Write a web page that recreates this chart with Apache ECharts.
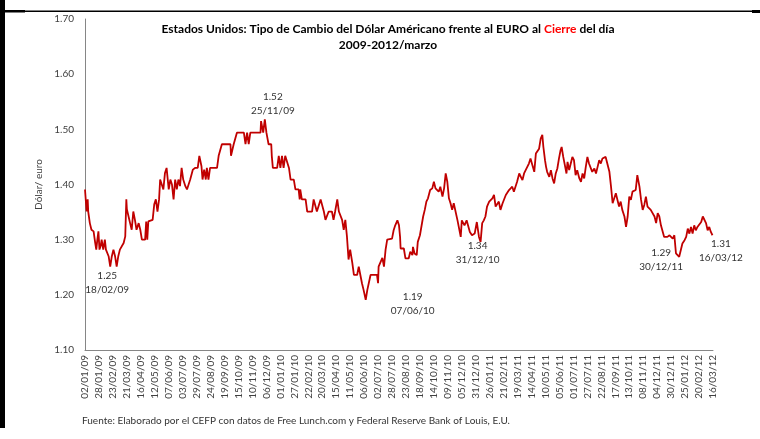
<!DOCTYPE html>
<html>
<head>
<meta charset="utf-8">
<script src="https://cdn.jsdelivr.net/npm/echarts@6/dist/echarts.min.js"></script>
<style>
  html, body { margin: 0; padding: 0; background: #fff; }
  #chart { width: 760px; height: 439px; }
</style>
</head>
<body>
<div id="chart"></div>
<script>
// etiquetas del eje x (cada 26 días desde 02/01/09)
const tickLabels = [
  '02/01/09', '28/01/09', '23/02/09', '21/03/09', '16/04/09', '12/05/09', '07/06/09', '03/07/09',
  '29/07/09', '24/08/09', '19/09/09', '15/10/09', '10/11/09', '06/12/09', '01/01/10', '27/01/10',
  '22/02/10', '20/03/10', '15/04/10', '11/05/10', '06/06/10', '02/07/10', '28/07/10', '23/08/10',
  '18/09/10', '14/10/10', '09/11/10', '05/12/10', '31/12/10', '26/01/11', '21/02/11', '19/03/11',
  '14/04/11', '10/05/11', '05/06/11', '01/07/11', '27/07/11', '22/08/11', '17/09/11', '13/10/11',
  '08/11/11', '04/12/11', '30/12/11', '25/01/12', '20/02/12', '16/03/12',
]
const tickStep = 26

// días transcurridos desde 02/01/09 y tipo de cambio (2009 - mediados 2010)
const daysA = [
  0, 3, 5, 6, 9, 12, 16, 19, 21, 23,
  25, 27, 29, 31, 34, 37, 39, 44, 47, 50,
  53, 56, 59, 62, 65, 68, 72, 75, 77, 78,
  81, 84, 87, 90, 93, 96, 100, 103, 106, 112,
  114, 116, 118, 121, 126, 129, 132, 135, 138, 140,
  143, 146, 149, 152, 156, 159, 162, 165, 168, 171,
  174, 177, 180, 183, 187, 190, 193, 196, 201, 205,
  210, 213, 217, 219, 222, 225, 227, 230, 233, 246,
  249, 252, 255, 271, 272, 275, 277, 283, 296, 299,
  302, 305, 308, 327, 328, 332, 335, 338, 342, 347,
  348, 350, 358, 361, 364, 367, 370, 373, 376, 380,
  383, 389, 392, 398, 400, 401, 404, 411, 414, 423,
  426, 432, 439, 445, 448, 451, 454, 460, 463, 466,
  470, 473, 479, 482, 485, 488, 491, 494, 498, 501,
  507, 510, 513, 516, 519, 523, 526, 532, 544, 546,
  547, 550, 554, 557, 560, 563, 566,
]
const ratesA = [
  1.391, 1.351, 1.373, 1.351, 1.330, 1.318, 1.315, 1.294, 1.282, 1.300,
  1.315, 1.282, 1.288, 1.300, 1.282, 1.300, 1.282, 1.270, 1.251, 1.270,
  1.282, 1.270, 1.251, 1.270, 1.282, 1.285, 1.294, 1.306, 1.373, 1.355,
  1.355, 1.330, 1.318, 1.351, 1.336, 1.318, 1.330, 1.318, 1.300, 1.300,
  1.333, 1.300, 1.333, 1.333, 1.336, 1.364, 1.373, 1.351, 1.373, 1.409,
  1.412, 1.391, 1.421, 1.430, 1.391, 1.409, 1.400, 1.373, 1.409, 1.391,
  1.409, 1.397, 1.430, 1.409, 1.397, 1.391, 1.391, 1.409, 1.427, 1.430,
  1.430, 1.452, 1.433, 1.409, 1.427, 1.409, 1.430, 1.409, 1.430, 1.430,
  1.452, 1.452, 1.473, 1.473, 1.452, 1.452, 1.473, 1.494, 1.494, 1.473,
  1.494, 1.473, 1.494, 1.494, 1.515, 1.494, 1.518, 1.494, 1.473, 1.473,
  1.452, 1.430, 1.430, 1.452, 1.430, 1.452, 1.430, 1.452, 1.452, 1.430,
  1.409, 1.409, 1.391, 1.391, 1.373, 1.391, 1.373, 1.373, 1.351, 1.351,
  1.373, 1.351, 1.373, 1.351, 1.336, 1.336, 1.351, 1.351, 1.336, 1.351,
  1.373, 1.351, 1.336, 1.318, 1.336, 1.306, 1.264, 1.282, 1.258, 1.236,
  1.236, 1.251, 1.236, 1.221, 1.209, 1.191, 1.209, 1.236, 1.236, 1.221,
  1.251, 1.258, 1.267, 1.251, 1.282, 1.300, 1.300,
]

// mediados 2010 - marzo 2012
const daysB = [
  572, 575, 578, 582, 585, 587, 588, 594, 597, 603,
  606, 610, 611, 614, 618, 620, 624, 627, 630, 633,
  636, 639, 643, 647, 650, 653, 656, 659, 662, 666,
  669, 672, 675, 678, 681, 684, 687, 690, 694, 697,
  700, 702, 705, 707, 711, 713, 717, 721, 726, 730,
  732, 734, 737, 740, 743, 746, 749, 753, 756, 759,
  762, 765, 768, 771, 774, 778, 781, 784, 787, 790,
  793, 796, 799, 802, 805, 809, 812, 815, 818, 821,
  824, 827, 830, 833, 837, 840, 843, 846, 849, 852,
  854, 857, 859, 861, 865, 868, 871, 874, 877, 880,
  883, 886, 888, 891, 894, 897, 899, 902, 905, 908,
  911, 914, 917, 921, 924, 927, 930, 933, 936, 939,
  942, 945, 949, 952, 955, 958, 961, 964, 967, 970,
  973, 977, 980, 983, 986, 989, 992, 995, 998, 1001,
  1005, 1008, 1011, 1014, 1017, 1020, 1023, 1026, 1029, 1033,
  1036, 1039, 1042, 1045, 1048, 1051, 1054, 1057, 1061, 1064,
  1067, 1070, 1073, 1076, 1079, 1082, 1085, 1089, 1092, 1095,
  1098, 1101, 1104, 1107, 1110, 1113, 1117, 1120, 1123, 1126,
  1129, 1132, 1135, 1138, 1141, 1144, 1148, 1151, 1154, 1157,
  1160, 1163, 1166, 1169,
]
const ratesB = [
  1.302, 1.317, 1.326, 1.335, 1.326, 1.305, 1.284, 1.284, 1.266, 1.266,
  1.278, 1.272, 1.287, 1.275, 1.272, 1.296, 1.308, 1.305, 1.342, 1.354,
  1.369, 1.375, 1.390, 1.393, 1.405, 1.393, 1.396, 1.387, 1.396, 1.378,
  1.393, 1.420, 1.405, 1.375, 1.366, 1.354, 1.366, 1.363, 1.335, 1.320,
  1.305, 1.335, 1.338, 1.326, 1.335, 1.338, 1.314, 1.308, 1.311, 1.332,
  1.335, 1.305, 1.296, 1.330, 1.335, 1.342, 1.360, 1.369, 1.366, 1.375,
  1.381, 1.360, 1.357, 1.369, 1.354, 1.366, 1.369, 1.381, 1.379, 1.390,
  1.390, 1.396, 1.387, 1.396, 1.405, 1.420, 1.414, 1.408, 1.420, 1.426,
  1.423, 1.438, 1.447, 1.444, 1.423, 1.456, 1.459, 1.465, 1.483, 1.490,
  1.468, 1.444, 1.432, 1.423, 1.414, 1.426, 1.411, 1.402, 1.420, 1.429,
  1.447, 1.462, 1.468, 1.450, 1.435, 1.420, 1.441, 1.426, 1.438, 1.450,
  1.444, 1.417, 1.426, 1.411, 1.405, 1.420, 1.411, 1.432, 1.450, 1.438,
  1.435, 1.423, 1.429, 1.420, 1.432, 1.444, 1.438, 1.447, 1.444, 1.450,
  1.447, 1.423, 1.396, 1.366, 1.363, 1.384, 1.372, 1.360, 1.369, 1.354,
  1.342, 1.323, 1.342, 1.378, 1.372, 1.387, 1.387, 1.390, 1.417, 1.396,
  1.372, 1.354, 1.363, 1.378, 1.360, 1.357, 1.354, 1.351, 1.342, 1.330,
  1.348, 1.342, 1.326, 1.323, 1.305, 1.307, 1.305, 1.308, 1.305, 1.302,
  1.308, 1.275, 1.272, 1.269, 1.269, 1.293, 1.299, 1.305, 1.320, 1.311,
  1.323, 1.311, 1.326, 1.317, 1.323, 1.320, 1.332, 1.342, 1.345, 1.330,
  1.317, 1.323, 1.314, 1.308,
]

// máximos / mínimos anotados
const noteDays = [335, 47, 523, 737, 1107, 1168]
const noteRates = [1.518, 1.251, 1.191, 1.296, 1.269, 1.308]
const noteValues = ['1.52', '1.25', '1.19', '1.34', '1.29', '1.31']
const noteDates = ['25/11/09', '18/02/09', '07/06/10', '31/12/10', '30/12/11', '16/03/12']
const noteOffsets = [[8, -16], [-3, 16], [47, 4], [-3, 11], [-18, 3], [9, 16]]

const FONT = 'Lato'
const allRates = ratesA.concat(ratesB)
const seriesData = daysA.concat(daysB).map((d, i) => [d, allRates[i]])

const myChart = echarts.init(document.getElementById('chart'))
const options = {
  animation: false,
  backgroundColor: '#fff',
  grid: { left: 85, right: 47, top: 19, bottom: 89 },
  xAxis: {
    type: 'value',
    min: 0,
    max: tickStep * (tickLabels.length - 1),
    interval: tickStep,
    axisLine: { show: true, lineStyle: { color: '#868686', width: 1 } },
    axisTick: { show: false },
    splitLine: { show: false },
    axisLabel: {
      rotate: 90,
      margin: 5,
      color: '#404040',
      fontFamily: FONT,
      fontSize: 10,
      formatter: (v) => tickLabels[Math.round(v / tickStep)],
    },
  },
  yAxis: {
    type: 'value',
    min: 1.1,
    max: 1.7,
    interval: 0.1,
    name: 'Dólar/ euro',
    nameLocation: 'middle',
    nameGap: 38,
    nameTextStyle: { color: '#404040', fontFamily: FONT, fontSize: 10 },
    axisLine: { show: true, lineStyle: { color: '#868686', width: 1 } },
    axisTick: { show: false },
    splitLine: { show: false },
    axisLabel: {
      margin: 11,
      color: '#404040',
      fontFamily: FONT,
      fontSize: 10,
      formatter: (v) => v.toFixed(2),
    },
  },
  series: [
    {
      type: 'line',
      data: seriesData,
      symbol: 'none',
      lineStyle: { color: '#C00000', width: 1.8 },
      markPoint: {
        symbol: 'circle',
        symbolSize: 1,
        itemStyle: { color: 'rgba(0,0,0,0)' },
        label: {
          show: true,
          position: 'inside',
          color: '#333',
          fontFamily: FONT,
          fontSize: 10,
          lineHeight: 14,
          align: 'center',
        },
        data: noteDays.map((d, i) => ({
          coord: [d, noteRates[i]],
          label: {
            offset: noteOffsets[i],
            formatter: noteValues[i] + '\n' + noteDates[i],
          },
        })),
      },
    },
  ],
  graphic: [
    // marco
    { type: 'rect', shape: { x: 0, y: 0, width: 5, height: 428 }, style: { fill: '#000' } },
    { type: 'rect', shape: { x: 0, y: 10, width: 25, height: 2.5 }, style: { fill: '#000' } },
    { type: 'rect', shape: { x: 25, y: 10.5, width: 727, height: 1.5 }, style: { fill: '#000' } },
    { type: 'rect', shape: { x: 752, y: 10, width: 8, height: 3 }, style: { fill: '#000' } },
    {
      type: 'text',
      x: 388,
      y: 29,
      style: {
        text: '{a|Estados Unidos: Tipo de Cambio del Dólar Américano frente al EURO al }{r|Cierre}{a| del día}',
        align: 'center',
        verticalAlign: 'middle',
        rich: {
          a: { fontFamily: FONT, fontWeight: 'bold', fontSize: 12, fill: '#000' },
          r: { fontFamily: FONT, fontWeight: 'bold', fontSize: 12, fill: '#FF0000' },
        },
      },
    },
    {
      type: 'text',
      x: 388,
      y: 45,
      style: {
        text: '2009-2012/marzo',
        align: 'center',
        verticalAlign: 'middle',
        fontFamily: FONT,
        fontWeight: 'bold',
        fontSize: 12,
        fill: '#000',
      },
    },
    {
      type: 'text',
      x: 82,
      y: 421,
      style: {
        text: 'Fuente: Elaborado por el CEFP con datos de Free Lunch.com y Federal Reserve Bank of Louis, E.U.',
        verticalAlign: 'middle',
        fontFamily: FONT,
        fontSize: 10,
        fill: '#333',
      },
    },
  ],
}
myChart.setOption(options)
</script>
</body>
</html>
